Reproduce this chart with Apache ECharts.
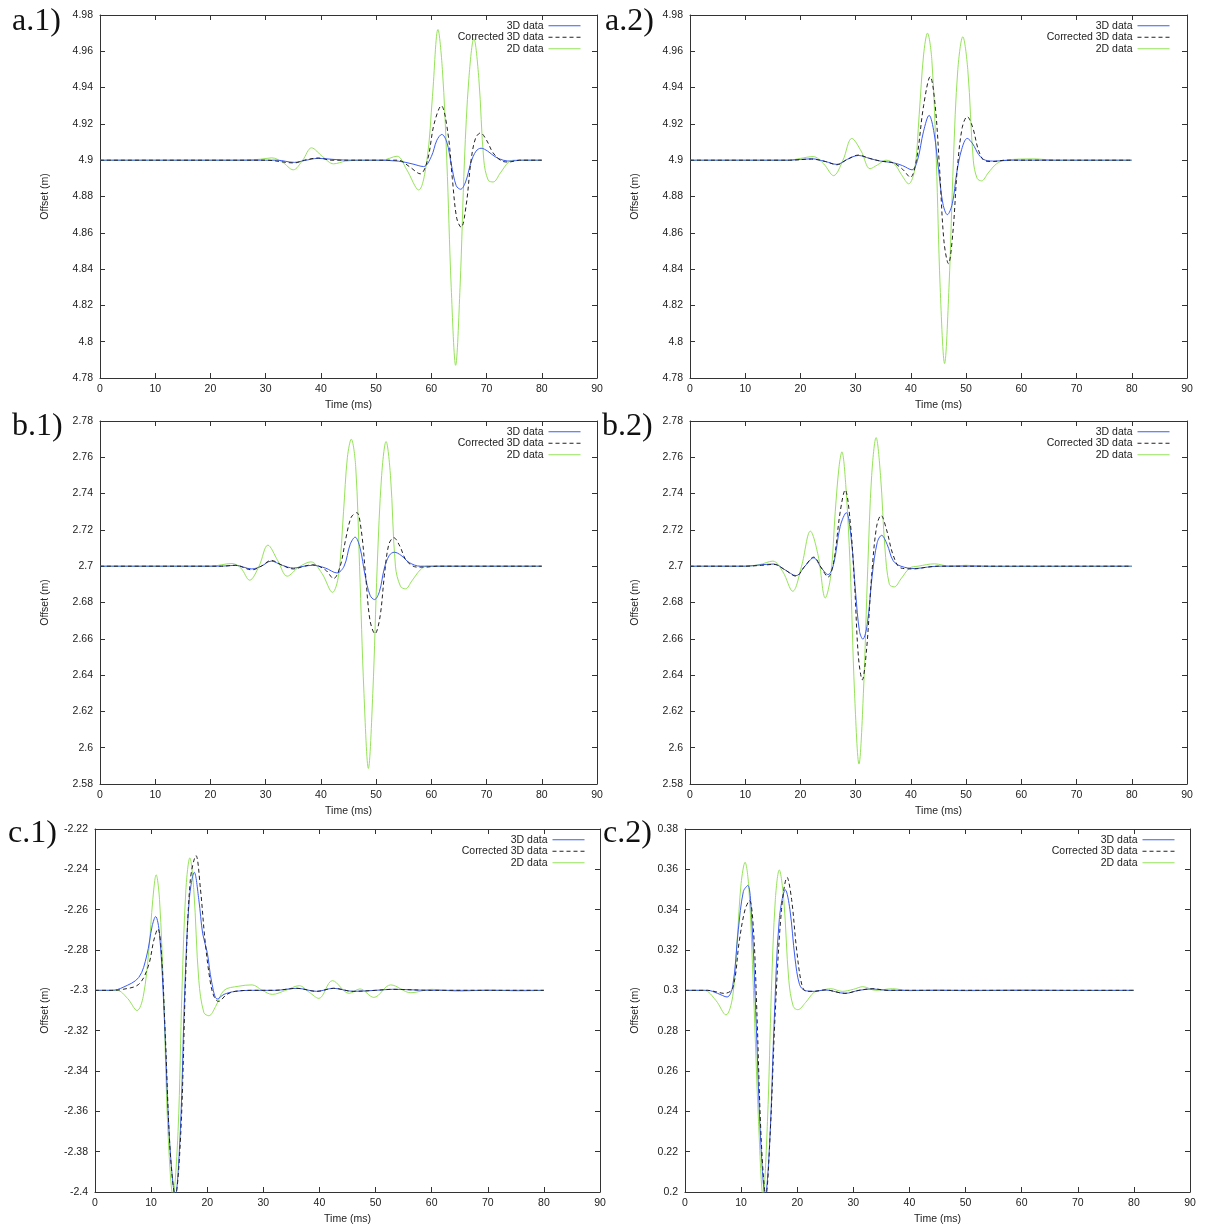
<!DOCTYPE html>
<html>
<head>
<meta charset="utf-8">
<script src="https://cdn.jsdelivr.net/npm/echarts@6/dist/echarts.min.js"></script>
<style>
html,body{margin:0;padding:0;background:#fff;}
#chart{width:1207px;height:1229px;}
</style>
</head>
<body>
<div id="chart"></div>
<script>
// ---- series names & tick settings ----
var seriesNames = ['3D data', 'Corrected 3D data', '2D data'];
var panelLabels = ['a.1)', 'a.2)', 'b.1)', 'b.2)', 'c.1)', 'c.2)'];
var xTicks = {min: 0, max: 90, interval: 10};
var yRanges = [
  {min: 4.78, max: 4.98}, {min: 4.78, max: 4.98},
  {min: 2.58, max: 2.78}, {min: 2.58, max: 2.78},
  {min: -2.4, max: -2.22}, {min: 0.2, max: 0.38}
];

// ---- panel a.1 ----
var a1_3d = [[0,4.9],[30,4.9],[32,4.9],[35.2,4.8988],[37,4.8998],[39.5,4.901],[42,4.9005],[45,4.9],[50,4.9],[54,4.8995],[56.5,4.898],[58.6,4.8965],[60,4.902],[61,4.911],[61.9,4.9142],[62.8,4.91],[63.6,4.898],[64.5,4.886],[65.3,4.884],[66.2,4.888],[67.2,4.899],[68.1,4.905],[69,4.9066],[70.2,4.905],[71.5,4.902],[73,4.9],[74.5,4.8995],[76,4.9],[80,4.9]];
var a1_corr = [[0,4.9],[30,4.9],[35.2,4.8985],[37,4.9],[39.5,4.9012],[42,4.9],[50,4.9],[54,4.9],[56,4.8965],[58,4.8925],[59.3,4.9],[60.5,4.92],[61.8,4.93],[63,4.915],[63.8,4.89],[64.6,4.868],[65.4,4.863],[66.3,4.875],[67.2,4.9],[68,4.912],[68.9,4.915],[70,4.911],[71.2,4.904],[72.8,4.8995],[74,4.899],[76,4.9],[80,4.9]];
var a1_2d = [[0,4.9],[25,4.9],[29,4.9005],[31.1,4.9013],[33,4.899],[35,4.8947],[36.7,4.9],[38.3,4.9068],[40.3,4.902],[42.3,4.898],[44.5,4.8995],[47,4.9],[51,4.9],[53.8,4.9022],[55.5,4.895],[57.7,4.8836],[59.2,4.9],[60.2,4.935],[61.2,4.972],[62,4.95],[62.8,4.9],[63.6,4.83],[64.4,4.787],[65.2,4.83],[66,4.9],[66.8,4.945],[67.7,4.967],[68.6,4.945],[69.5,4.9],[70.3,4.889],[71.2,4.888],[72.5,4.893],[74,4.899],[75,4.9],[80,4.9]];

// ---- panel a.2 ----
var a2_3d = [[0,4.9],[18,4.9],[22,4.9008],[24.5,4.8993],[26.6,4.8977],[28.5,4.9005],[30.5,4.9026],[32.5,4.901],[34.5,4.8995],[36.8,4.8986],[38.5,4.897],[40.2,4.8947],[41.2,4.9],[42.3,4.916],[43.3,4.9247],[44.2,4.915],[45,4.895],[45.8,4.876],[46.6,4.87],[47.5,4.876],[48.3,4.893],[49.2,4.906],[50.2,4.912],[51.2,4.909],[52.3,4.903],[53.5,4.9],[55.3,4.8995],[58,4.9],[80,4.9]];
var a2_corr = [[0,4.9],[18,4.9],[22,4.9006],[24.5,4.8993],[26.6,4.8975],[28.5,4.9005],[30.5,4.9028],[32.5,4.901],[34.5,4.8995],[36.8,4.8985],[38.5,4.895],[39.9,4.8906],[41,4.9],[42.3,4.93],[43.5,4.946],[44.4,4.93],[45.2,4.895],[46,4.855],[46.8,4.843],[47.6,4.86],[48.4,4.895],[49.3,4.918],[50.2,4.924],[51.2,4.918],[52.3,4.905],[53.5,4.8995],[55,4.8993],[57,4.9],[80,4.9]];
var a2_2d = [[0,4.9],[18,4.9],[20,4.901],[22.3,4.902],[24.2,4.898],[26,4.8915],[27.7,4.9],[29.3,4.912],[31,4.905],[32.6,4.8953],[34,4.8975],[35.5,4.9],[37,4.898],[38.3,4.892],[39.6,4.887],[40.7,4.895],[41.5,4.925],[42.3,4.958],[43,4.97],[43.8,4.955],[44.6,4.9],[45.3,4.83],[46.1,4.788],[46.9,4.83],[47.7,4.9],[48.5,4.95],[49.4,4.968],[50.3,4.95],[51.3,4.9],[52,4.89],[52.8,4.8886],[54,4.893],[55.5,4.898],[57,4.9],[62.7,4.9007],[66,4.9],[80,4.9]];

// ---- panel b.1 ----
var b1_3d = [[0,2.7],[22,2.7],[24.5,2.7005],[27.5,2.6985],[29.2,2.7],[31,2.7028],[33,2.7005],[35,2.699],[37,2.7],[38.5,2.7005],[40.8,2.699],[42.9,2.6963],[44.2,2.7],[45.3,2.712],[46.2,2.716],[47.1,2.71],[48,2.695],[48.9,2.684],[49.7,2.6816],[50.6,2.686],[51.5,2.699],[52.4,2.706],[53.3,2.7077],[54.5,2.706],[56,2.702],[58,2.7],[80,2.7]];
var b1_corr = [[0,2.7],[22,2.7],[24.5,2.7005],[27.5,2.698],[29.2,2.7],[31,2.7032],[33,2.7005],[35,2.6985],[37,2.7],[38.5,2.7008],[40.8,2.698],[42.3,2.6932],[43.5,2.7],[44.5,2.715],[45.5,2.727],[46.5,2.7295],[47.3,2.72],[48.1,2.695],[48.9,2.67],[49.8,2.6628],[50.7,2.672],[51.5,2.695],[52.3,2.712],[53.2,2.7157],[54.3,2.711],[55.5,2.703],[57.4,2.6995],[59,2.6995],[61,2.7],[80,2.7]];
var b1_2d = [[0,2.7],[20,2.7],[23.9,2.7015],[25.5,2.699],[27.1,2.6923],[28.8,2.7],[30.4,2.7116],[32.2,2.703],[33.9,2.6945],[36,2.6995],[38.2,2.7024],[40.2,2.696],[42.1,2.6856],[43.2,2.695],[44.1,2.73],[44.8,2.76],[45.5,2.77],[46.3,2.755],[47,2.7],[47.8,2.63],[48.6,2.5886],[49.4,2.63],[50.2,2.7],[51,2.75],[51.8,2.7687],[52.6,2.75],[53.5,2.7],[54.4,2.689],[55.3,2.6875],[56.5,2.692],[58,2.698],[59.2,2.7],[80,2.7]];

// ---- panel b.2 ----
var b2_3d = [[0,2.7],[10,2.7],[13,2.7008],[15.2,2.7012],[17.2,2.698],[19.2,2.6948],[20.8,2.7],[22.4,2.7046],[23.8,2.699],[25,2.6954],[26,2.701],[27.2,2.722],[28.3,2.7295],[29.2,2.715],[30,2.685],[30.7,2.664],[31.3,2.6598],[32.1,2.668],[33,2.695],[33.9,2.713],[34.7,2.717],[35.7,2.712],[36.8,2.703],[38.2,2.7],[40.7,2.6987],[43,2.6995],[45,2.7],[80,2.7]];
var b2_corr = [[0,2.7],[10,2.7],[13,2.7005],[15.2,2.701],[17.2,2.698],[19.2,2.6945],[20.8,2.7],[22.4,2.705],[23.8,2.699],[25,2.694],[26,2.702],[27.2,2.73],[28.1,2.742],[29,2.725],[29.8,2.69],[30.5,2.65],[31.2,2.6374],[32,2.655],[32.9,2.695],[33.8,2.722],[34.6,2.728],[35.6,2.72],[36.8,2.706],[38.2,2.699],[40.5,2.6985],[43,2.6995],[45,2.7],[80,2.7]];
var b2_2d = [[0,2.7],[10,2.7],[12.5,2.7008],[15,2.7028],[16.8,2.697],[18.6,2.6862],[20.2,2.7],[21.8,2.7193],[23.2,2.706],[24.5,2.6825],[25.5,2.695],[26.3,2.73],[27,2.755],[27.5,2.763],[28.2,2.745],[29,2.7],[29.8,2.63],[30.6,2.591],[31.4,2.63],[32.2,2.7],[32.9,2.75],[33.7,2.7709],[34.5,2.75],[35.3,2.71],[36.1,2.69],[37,2.6886],[38.2,2.693],[39.8,2.699],[41.3,2.7],[44.3,2.7013],[47,2.7],[50,2.7005],[55,2.6998],[80,2.7]];

// ---- panel c.1 ----
var c1_3d = [[0,-2.3],[3,-2.3],[5,-2.2985],[7.8,-2.2936],[9.2,-2.283],[10.2,-2.268],[10.8,-2.2634],[11.5,-2.272],[12.3,-2.31],[13.3,-2.375],[14.3,-2.402],[15.2,-2.37],[16,-2.3],[16.8,-2.255],[17.7,-2.2415],[18.5,-2.255],[19.2,-2.272],[20,-2.2812],[20.8,-2.296],[21.8,-2.3043],[23,-2.302],[25,-2.3005],[28,-2.3],[32,-2.3],[36,-2.299],[39.5,-2.3005],[42.5,-2.299],[46,-2.3005],[50,-2.3],[53,-2.2995],[60,-2.3],[80,-2.3]];
var c1_corr = [[0,-2.3],[3,-2.3],[5,-2.2995],[7.8,-2.297],[9.5,-2.288],[10.5,-2.275],[11.2,-2.2695],[11.8,-2.28],[12.5,-2.32],[13.4,-2.38],[14.3,-2.402],[15.3,-2.37],[16.2,-2.29],[17,-2.245],[18,-2.2332],[18.8,-2.25],[19.6,-2.275],[20.5,-2.295],[21.2,-2.303],[22,-2.3055],[23.5,-2.302],[25,-2.3005],[28,-2.3],[32,-2.3],[36,-2.299],[39.5,-2.3005],[42.5,-2.299],[46,-2.3005],[50,-2.3],[53,-2.2995],[60,-2.3],[80,-2.3]];
var c1_2d = [[0,-2.3],[3.9,-2.3],[5.8,-2.304],[7.5,-2.31],[8.6,-2.303],[9.6,-2.28],[10.3,-2.255],[10.9,-2.2427],[11.5,-2.255],[12.2,-2.3],[13,-2.37],[13.9,-2.402],[14.8,-2.37],[15.5,-2.3],[16.2,-2.25],[16.9,-2.2343],[17.6,-2.25],[18.5,-2.295],[19.4,-2.311],[20.3,-2.3126],[21.5,-2.308],[23,-2.3],[25.5,-2.298],[28,-2.2973],[29.8,-2.3],[31.6,-2.302],[34,-2.3],[36.4,-2.2977],[38.2,-2.301],[39.9,-2.304],[42.3,-2.2952],[45.3,-2.3015],[47.2,-2.2993],[49.7,-2.3035],[52.7,-2.2973],[56.3,-2.3012],[60,-2.2995],[65,-2.3005],[70,-2.2998],[75,-2.3003],[80,-2.3]];

// ---- panel c.2 ----
var c2_3d = [[0,0.3],[4,0.3],[5.8,0.2985],[7.5,0.2967],[8.5,0.302],[9.5,0.33],[10.4,0.349],[11.2,0.352],[11.9,0.335],[12.6,0.29],[13.5,0.225],[14.3,0.198],[15.1,0.225],[15.9,0.285],[16.8,0.335],[17.9,0.3498],[18.7,0.34],[19.6,0.316],[20.4,0.303],[21.3,0.3],[23,0.2995],[25,0.3002],[28.5,0.2985],[31,0.3],[33.5,0.3007],[36,0.3],[40,0.3],[80,0.3]];
var c2_corr = [[0,0.3],[4,0.3],[5.5,0.2993],[7,0.2985],[8.5,0.301],[9.7,0.325],[10.7,0.34],[11.5,0.3445],[12.2,0.33],[12.8,0.29],[13.6,0.225],[14.4,0.198],[15.2,0.23],[16.1,0.29],[17.2,0.34],[18.2,0.356],[19,0.345],[19.9,0.32],[20.8,0.303],[21.6,0.2995],[23,0.2995],[25,0.3002],[28.5,0.2985],[31,0.3],[33.5,0.3008],[36,0.3],[40,0.3],[80,0.3]];
var c2_2d = [[0,0.3],[3.4,0.3],[5.5,0.295],[7.3,0.2878],[8.5,0.297],[9.3,0.325],[10,0.353],[10.7,0.3635],[11.4,0.35],[12.2,0.3],[13.1,0.235],[13.9,0.198],[14.7,0.235],[15.4,0.3],[16.1,0.345],[16.8,0.3597],[17.6,0.345],[18.5,0.305],[19.3,0.292],[20.1,0.2904],[21.5,0.294],[23,0.299],[24.3,0.3],[26,0.3008],[28,0.2995],[30,0.3005],[31.7,0.3018],[34,0.3],[37,0.3008],[40,0.2998],[45,0.3002],[50,0.2998],[60,0.3002],[70,0.2999],[80,0.3]];

var panelData = [
  [a1_3d, a1_corr, a1_2d],
  [a2_3d, a2_corr, a2_2d],
  [b1_3d, b1_corr, b1_2d],
  [b2_3d, b2_corr, b2_2d],
  [c1_3d, c1_corr, c1_2d],
  [c2_3d, c2_corr, c2_2d]
];

// ---- layout (styles / positions) ----
var grids = [
  {left: 100, top: 15, width: 497, height: 363},
  {left: 690, top: 15, width: 497, height: 363},
  {left: 100, top: 421, width: 497, height: 363},
  {left: 690, top: 421, width: 497, height: 363},
  {left: 95, top: 829, width: 505, height: 363},
  {left: 685, top: 829, width: 505, height: 363}
];
var yNameGaps = [49, 49, 49, 49, 44, 44];
var legendPos = [
  {right: 626, top: 20}, {right: 37, top: 20},
  {right: 626, top: 426}, {right: 37, top: 426},
  {right: 622, top: 834}, {right: 32, top: 834}
];
var labelPos = [
  {left: 12, top: 6}, {left: 605, top: 6},
  {left: 12, top: 411}, {left: 602, top: 411},
  {left: 8, top: 818}, {left: 603, top: 818}
];
var colors = ['#3b5cf0', '#222222', '#96e35a'];
var lineTypes = ['solid', [4, 3], 'solid'];
var FONT = '"Liberation Sans", Arial, sans-serif';
var axisColor = '#333';

var xAxes = [], yAxes = [], series = [], legends = [], graphics = [];
grids.forEach(function (g, i) {
  var gridLabel = {fontSize: 10.5, color: '#222', fontFamily: FONT};
  xAxes.push({
    gridIndex: i, type: 'value', position: 'bottom',
    min: xTicks.min, max: xTicks.max, interval: xTicks.interval,
    name: 'Time (ms)', nameLocation: 'middle', nameGap: 22,
    nameTextStyle: {fontSize: 10.5, color: '#222', fontFamily: FONT},
    axisLine: {show: true, onZero: false, lineStyle: {color: axisColor, width: 1}},
    axisTick: {show: true, inside: true, length: 5, lineStyle: {color: axisColor}},
    axisLabel: Object.assign({margin: 6}, gridLabel),
    splitLine: {show: false}
  });
  xAxes.push({
    gridIndex: i, type: 'value', position: 'top',
    min: xTicks.min, max: xTicks.max, interval: xTicks.interval,
    axisLine: {show: true, onZero: false, lineStyle: {color: axisColor, width: 1}},
    axisTick: {show: true, inside: true, length: 5, lineStyle: {color: axisColor}},
    axisLabel: {show: false}, splitLine: {show: false}
  });
  var yr = yRanges[i];
  yAxes.push({
    gridIndex: i, type: 'value', position: 'left',
    min: yr.min, max: yr.max, interval: 0.02,
    name: 'Offset (m)', nameLocation: 'middle', nameGap: yNameGaps[i],
    nameTextStyle: {fontSize: 10.5, color: '#222', fontFamily: FONT},
    axisLine: {show: true, onZero: false, lineStyle: {color: axisColor, width: 1}},
    axisTick: {show: true, inside: true, length: 5, lineStyle: {color: axisColor}},
    axisLabel: Object.assign({margin: 7}, gridLabel),
    splitLine: {show: false}
  });
  yAxes.push({
    gridIndex: i, type: 'value', position: 'right',
    min: yr.min, max: yr.max, interval: 0.02,
    axisLine: {show: true, onZero: false, lineStyle: {color: axisColor, width: 1}},
    axisTick: {show: true, inside: true, length: 5, lineStyle: {color: axisColor}},
    axisLabel: {show: false}, splitLine: {show: false}
  });
  panelData[i].forEach(function (d, k) {
    series.push({
      type: 'line', name: seriesNames[k],
      xAxisIndex: 2 * i, yAxisIndex: 2 * i,
      data: d, symbol: 'none', showSymbol: false,
      smooth: 0.35, clip: true, animation: false,
      z: k === 2 ? 2 : (k === 0 ? 3 : 4),
      lineStyle: {color: colors[k], width: 1, type: lineTypes[k]},
      itemStyle: {color: colors[k]}
    });
  });
  legends.push({
    orient: 'vertical', align: 'right',
    right: legendPos[i].right, top: legendPos[i].top,
    padding: 0, itemGap: 0, itemWidth: 32, itemHeight: 8,
    selectedMode: false,
    data: seriesNames.slice(),
    itemStyle: {opacity: 0, color: 'rgba(0,0,0,0)', borderWidth: 0},
    lineStyle: {width: 1},
    textStyle: {fontSize: 10.5, color: '#222', fontFamily: FONT, lineHeight: 11.5}
  });
  graphics.push({
    type: 'text', left: labelPos[i].left, top: labelPos[i].top,
    style: {text: panelLabels[i], font: '32px "Liberation Serif", "DejaVu Serif", serif', fill: '#111'}
  });
});

var chart = echarts.init(document.getElementById('chart'), null, {renderer: 'canvas'});
chart.setOption({
  backgroundColor: '#ffffff',
  animation: false,
  grid: grids,
  xAxis: xAxes,
  yAxis: yAxes,
  legend: legends,
  series: series,
  graphic: graphics
});
</script>
</body>
</html>
